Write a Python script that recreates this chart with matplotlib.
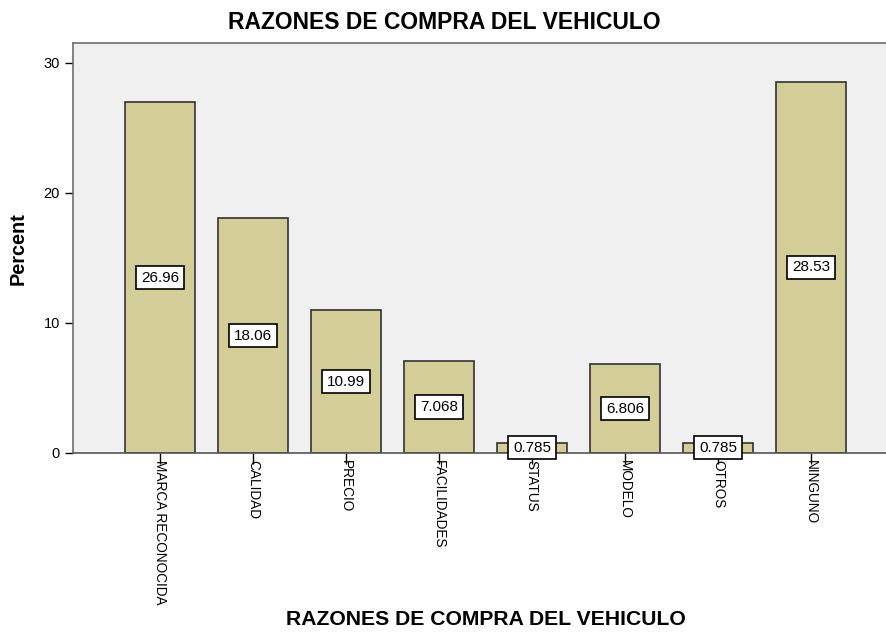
import matplotlib.pyplot as plt

plt.rcParams['font.family'] = ['Liberation Sans', 'DejaVu Sans']

razones = ['MARCA RECONOCIDA', 'CALIDAD', 'PRECIO', 'FACILIDADES',
           'STATUS', 'MODELO', 'OTROS', 'NINGUNO']
porcentaje = [26.96, 18.06, 10.99, 7.068, 0.785, 6.806, 0.785, 28.53]
yticks = [0, 10, 20, 30]

fig = plt.figure(figsize=(8.86, 6.33), dpi=100)
ax = fig.add_axes([0.0824, 0.2844, 0.931, 0.648])
ax.set_facecolor('#F0F0F0')

x = list(range(len(razones)))
ax.bar(x, porcentaje, width=0.75, color='#D3CE97', edgecolor='#333333', linewidth=1.2, zorder=2)

# etiquetas de valor en el centro de cada barra
for xi, v in zip(x, porcentaje):
    ax.text(xi, v / 2, f'{v:.4g}', ha='center', va='center', fontsize=11, zorder=3,
            bbox=dict(boxstyle='square,pad=0.3', facecolor='white', edgecolor='black', linewidth=1.2))

ax.set_xlim(-0.935, 7.935)
ax.set_ylim(0, 31.54)
ax.set_yticks(yticks)
ax.set_xticks(x)
ax.set_xticklabels(razones, rotation=270, fontsize=9.8)
ax.tick_params(axis='x', length=8, width=1, pad=-3, colors='black')
ax.tick_params(axis='y', length=6, width=1, labelsize=10.5)

for s in ['left', 'top']:
    ax.spines[s].set_color('#6E6E6E')
    ax.spines[s].set_linewidth(1.2)
ax.spines['bottom'].set_color('#555555')
ax.spines['bottom'].set_linewidth(1.2)
ax.spines['right'].set_visible(False)

fig.text(0.502, 0.965, 'RAZONES DE COMPRA DEL VEHICULO', ha='center', va='center',
         fontsize=16.5, fontweight='bold')
fig.text(0.548, 0.006, 'RAZONES DE COMPRA DEL VEHICULO', ha='center', va='bottom',
         fontsize=15.2, fontweight='bold')
fig.text(0.021, 0.608, 'Percent', ha='center', va='center', rotation=90,
         fontsize=14.3, fontweight='bold')

fig.savefig('out.png', dpi=100)
plt.close()
